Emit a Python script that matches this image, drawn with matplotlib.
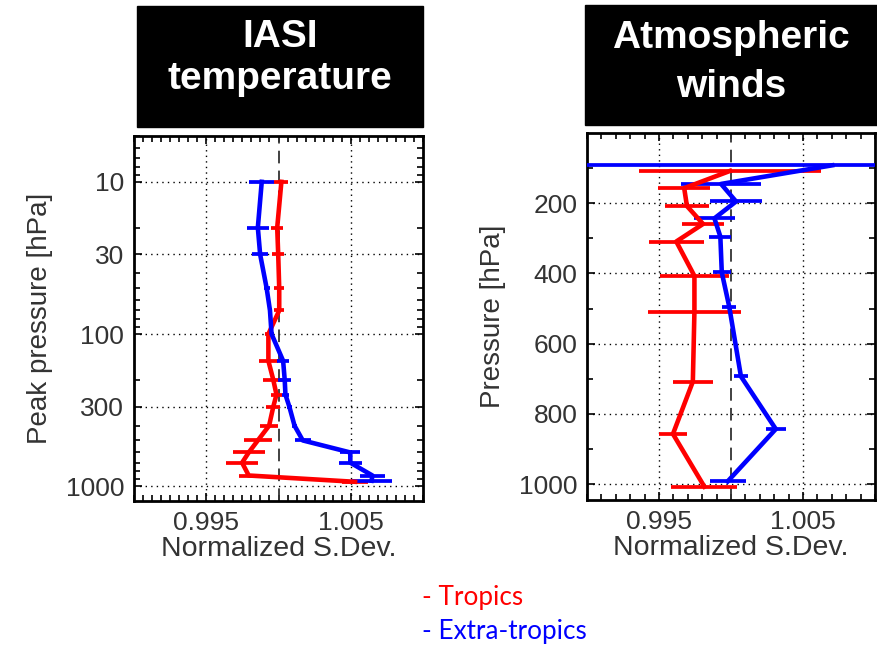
import matplotlib
matplotlib.use("Agg")
import matplotlib.pyplot as plt
from matplotlib.patches import Rectangle
from matplotlib.ticker import FixedLocator, LogLocator, NullFormatter

# IASI temperature: channel peak pressure [hPa] and normalized std. dev.
iasi_p_trop = [10, 20, 30, 50, 70, 100, 150, 200, 250, 300, 400, 500, 600, 700, 850, 935]
iasi_trop = [1.0002, 0.99991, 0.99998, 1.00005, 1.00005, 0.9993, 0.9993, 0.99964,
             0.99986, 0.99964, 0.99935, 0.99857, 0.99794, 0.99748, 0.99794, 1.0053]
iasi_trop_err = [0.00048, 0.0004, 0.0004, 0.00034, 0.00034, 0.0002, 0.00068, 0.00068,
                 0.0004, 0.00048, 0.0006, 0.00095, 0.0011, 0.0011, 0.0007, 0.0009]

iasi_p_extra = [10, 20, 30, 50, 70, 100, 150, 200, 250, 300, 400, 500, 600, 700, 850, 920]
iasi_extra = [0.99884, 0.99857, 0.99873, 0.99918, 0.99941, 0.99952, 1.00032, 1.00043,
              1.00048, 1.00075, 1.00111, 1.00168, 1.00497, 1.00497, 1.0065, 1.00644]
iasi_extra_err = [0.00088, 0.00075, 0.00054, 0.0002, 0.00014, 0.00014, 0.0004, 0.00045,
                  0.00027, 0.00015, 0.0002, 0.00054, 0.00068, 0.0008, 0.00085, 0.0014]

# Atmospheric winds: pressure [hPa] and normalized std. dev.
wind_p_trop = [108, 157, 208, 259, 309, 407, 509, 708, 857, 1007]
wind_trop = [0.99993, 0.99675, 0.99694, 0.99806, 0.9962, 0.99746, 0.99746, 0.99735,
             0.99597, 0.99815]
wind_trop_err = [0.0063, 0.0018, 0.0015, 0.00145, 0.0019, 0.0024, 0.0032, 0.0014,
                 0.001, 0.0023]

wind_p_extra = [92, 145, 195, 243, 295, 397, 495, 693, 843, 992]
wind_extra = [1.00703, 0.99931, 1.00035, 0.99885, 0.99926, 0.99936, 0.99988, 1.00069,
              1.00311, 0.99977]
wind_extra_err = [0.018, 0.0028, 0.0018, 0.0014, 0.00076, 0.00062, 0.00048, 0.00048,
                  0.00069, 0.00125]

xticks = [0.995, 1.005]
xtick_labels = ["0.995", "1.005"]
iasi_yticks = [10, 30, 100, 300, 1000]
wind_yticks = [200, 400, 600, 800, 1000]

RED = "#ff0000"
BLUE = "#0000ff"
TXT = "#333333"

plt.rcParams["font.family"] = ["Liberation Sans", "DejaVu Sans"]

fig = plt.figure(figsize=(8.77, 6.46), dpi=100)
ax1 = fig.add_axes([134 / 877, 1 - 501 / 646, 289 / 877, 365 / 646])
ax2 = fig.add_axes([587 / 877, 1 - 500 / 646, 288 / 877, 367 / 646])


def draw(ax, p_t, x_t, e_t, p_e, x_e, e_e):
    for p, x, e, c in [(p_t, x_t, e_t, RED), (p_e, x_e, e_e, BLUE)]:
        ax.errorbar(x, p, xerr=e, color=c, lw=3.3, elinewidth=2.7, capsize=0,
                    zorder=3)
    ax.axvline(1.0, color="#333333", lw=1.3, ls=(0, (7, 4)), zorder=2)
    ax.set_xlim(0.990, 1.010)
    ax.xaxis.set_major_locator(FixedLocator(xticks))
    ax.set_xticklabels(xtick_labels)
    ax.grid(True, which="major", color="black", ls=(0, (1, 3)), lw=1.0, zorder=1)
    ax.tick_params(which="both", direction="in", top=True, right=True,
                   labelsize=19, labelcolor=TXT, pad=7)
    ax.tick_params(which="major", length=6, width=1.2)
    ax.tick_params(which="minor", length=4, width=1.2)
    for s in ax.spines.values():
        s.set_linewidth(2.0)
    ax.set_xlabel("Normalized S.Dev.", fontsize=20.5, color=TXT, labelpad=1)


draw(ax1, iasi_p_trop, iasi_trop, iasi_trop_err, iasi_p_extra, iasi_extra, iasi_extra_err)
ax1.set_yscale("log")
ax1.set_ylim(1250, 5)
ax1.yaxis.set_major_locator(FixedLocator(iasi_yticks))
ax1.set_yticklabels([str(v) for v in iasi_yticks])
ax1.yaxis.set_minor_locator(LogLocator(base=10, subs=range(2, 10)))
ax1.yaxis.set_minor_formatter(NullFormatter())
ax1.xaxis.set_minor_locator(FixedLocator([0.990 + i * 0.000625 for i in range(33)]))
ax1.set_ylabel("Peak pressure [hPa]", fontsize=20, color=TXT, labelpad=9)

draw(ax2, wind_p_trop, wind_trop, wind_trop_err, wind_p_extra, wind_extra, wind_extra_err)
ax2.set_ylim(1045, 0)
ax2.yaxis.set_major_locator(FixedLocator(wind_yticks))
ax2.set_yticklabels([str(v) for v in wind_yticks])
ax2.yaxis.set_minor_locator(FixedLocator([100, 300, 500, 700, 900]))
ax2.xaxis.set_minor_locator(FixedLocator([0.990 + i * 0.001 for i in range(21)]))
ax2.set_ylabel("Pressure [hPa]", fontsize=20, color=TXT, labelpad=9)

# black title boxes, one text line at a time (baseline in pixels)
titles = [(137, 423, 6, 127, [("IASI", 47), ("temperature", 89)]),
          (585, 877, 5, 125, [("Atmospheric", 48), ("winds", 97)])]
for x0, x1, y0, y1, lines in titles:
    fig.add_artist(Rectangle((x0 / 877, 1 - y1 / 646), (x1 - x0) / 877, (y1 - y0) / 646,
                             transform=fig.transFigure, color="black", zorder=0))
    for txt, base in lines:
        fig.text((x0 + x1) / 2 / 877, 1 - base / 646, txt, color="white",
                 fontsize=28, fontweight="bold", ha="center", va="baseline")

fig.text(422 / 877, 1 - 597 / 646, "- Tropics", color=RED, fontsize=18.8,
         family=["Lato", "DejaVu Sans"], va="center", ha="left")
fig.text(422 / 877, 1 - 631 / 646, "- Extra-tropics", color=BLUE, fontsize=18.8,
         family=["Lato", "DejaVu Sans"], va="center", ha="left")

fig.savefig("out.png", dpi=100)
